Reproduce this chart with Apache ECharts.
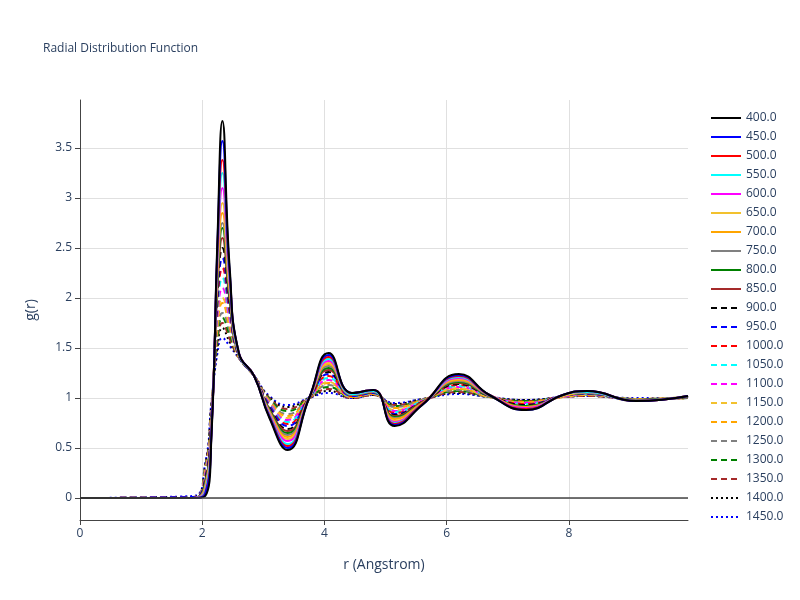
<!DOCTYPE html>
<html><head><meta charset="utf-8">
<script src="https://cdn.jsdelivr.net/npm/echarts@6/dist/echarts.min.js"></script>
<style>html,body{margin:0;padding:0;background:#fff}#c{width:800px;height:600px}</style>
</head><body><div id="c"></div>
<script>
const rValues = [0,1.85,2.05,2.15,2.25,2.33,2.45,2.6,2.85,3.1,3.4,3.75,4.07,4.45,4.8,5.15,5.6,6.2,6.7,7.3,7.9,8.3,9.1,9.95];
const temperatures = ['400.0','450.0','500.0','550.0','600.0','650.0','700.0','750.0','800.0','850.0','900.0','950.0','1000.0','1050.0','1100.0','1150.0','1200.0','1250.0','1300.0','1350.0','1400.0','1450.0'];
const g400 =[0,0,.02,.60,2.60,3.77,2.30,1.45,1.22,.80,.48,1.0,1.45,1.05,1.08,.72,.93,1.24,1.03,.88,1.03,1.07,.97,1.02];
const g450 =[0,0,.04,.62,2.55,3.57,2.26,1.45,1.22,.81,.50,1.0,1.43,1.05,1.08,.73,.93,1.23,1.03,.88,1.03,1.07,.97,1.02];
const g500 =[0,0,.05,.63,2.49,3.38,2.23,1.45,1.22,.82,.52,1.0,1.41,1.05,1.08,.74,.94,1.22,1.03,.89,1.03,1.07,.97,1.02];
const g550 =[0,0,.07,.65,2.44,3.25,2.19,1.44,1.22,.83,.54,1.0,1.39,1.04,1.07,.75,.94,1.21,1.03,.89,1.03,1.06,.97,1.02];
const g600 =[0,0,.08,.67,2.38,3.10,2.15,1.44,1.22,.84,.57,1.0,1.37,1.04,1.07,.76,.94,1.20,1.03,.90,1.03,1.06,.97,1.02];
const g650 =[0,0,.10,.68,2.33,2.95,2.11,1.44,1.22,.85,.59,1.0,1.35,1.04,1.07,.77,.94,1.19,1.03,.90,1.02,1.06,.97,1.02];
const g700 =[0,0,.11,.70,2.27,2.85,2.08,1.44,1.22,.86,.61,1.0,1.34,1.04,1.07,.79,.95,1.18,1.03,.91,1.02,1.06,.97,1.02];
const g750 =[0,0,.13,.72,2.22,2.75,2.04,1.43,1.22,.87,.63,1.0,1.32,1.03,1.06,.80,.95,1.17,1.02,.91,1.02,1.05,.98,1.02];
const g800 =[0,0,.15,.73,2.16,2.70,2.00,1.43,1.22,.88,.65,1.0,1.30,1.03,1.06,.81,.95,1.16,1.02,.92,1.02,1.05,.98,1.01];
const g850 =[0,0,.16,.75,2.11,2.60,1.97,1.43,1.22,.89,.67,1.0,1.28,1.03,1.06,.82,.96,1.15,1.02,.92,1.02,1.05,.98,1.01];
const g900 =[0,0,.18,.77,2.05,2.50,1.93,1.43,1.22,.90,.69,1.0,1.26,1.03,1.06,.83,.96,1.14,1.02,.93,1.02,1.05,.98,1.01];
const g950 =[0,.01,.19,.78,2.00,2.40,1.89,1.42,1.22,.92,.72,1.0,1.24,1.02,1.05,.84,.96,1.14,1.02,.93,1.02,1.04,.98,1.01];
const g1000=[0,.01,.21,.80,1.94,2.30,1.85,1.42,1.22,.93,.74,1.0,1.22,1.02,1.05,.85,.96,1.13,1.02,.94,1.02,1.04,.98,1.01];
const g1050=[0,.01,.22,.82,1.89,2.20,1.82,1.42,1.22,.94,.76,1.0,1.20,1.02,1.05,.86,.97,1.12,1.02,.94,1.02,1.04,.98,1.01];
const g1100=[0,.01,.24,.83,1.83,2.10,1.78,1.42,1.22,.95,.78,1.0,1.18,1.02,1.05,.87,.97,1.11,1.02,.95,1.01,1.04,.98,1.01];
const g1150=[0,.01,.26,.85,1.78,2.00,1.74,1.41,1.22,.96,.80,1.0,1.16,1.01,1.04,.88,.97,1.10,1.01,.95,1.01,1.03,.99,1.01];
const g1200=[0,.01,.27,.87,1.72,1.95,1.71,1.41,1.22,.97,.82,1.0,1.15,1.01,1.04,.90,.98,1.09,1.01,.96,1.01,1.03,.99,1.0];
const g1250=[0,.01,.29,.88,1.67,1.85,1.67,1.41,1.22,.98,.84,1.0,1.13,1.01,1.04,.91,.98,1.08,1.01,.96,1.01,1.03,.99,1.0];
const g1300=[0,.01,.30,.90,1.61,1.80,1.63,1.41,1.22,.99,.87,1.0,1.11,1.01,1.04,.92,.98,1.07,1.01,.97,1.01,1.03,.99,1.0];
const g1350=[0,.01,.32,.92,1.56,1.75,1.59,1.40,1.22,1.00,.89,1.0,1.09,1.0,1.03,.93,.98,1.06,1.01,.97,1.01,1.02,.99,1.0];
const g1400=[0,.01,.33,.93,1.50,1.70,1.56,1.40,1.22,1.01,.91,1.0,1.07,1.0,1.03,.94,.99,1.05,1.01,.98,1.01,1.02,.99,1.0];
const g1450=[0,.02,.35,.95,1.45,1.60,1.52,1.40,1.22,1.02,.93,1.0,1.05,1.0,1.03,.95,.99,1.04,1.01,.98,1.01,1.02,1.0,1.0];
const yTicks = [0,0.5,1,1.5,2,2.5,3,3.5];
const xTicks = [0,2,4,6,8];

const allG=[g400,g450,g500,g550,g600,g650,g700,g750,g800,g850,g900,g950,g1000,g1050,g1100,g1150,g1200,g1250,g1300,g1350,g1400,g1450];
const colors=['#000','#0000ff','#ff0000','#00ffff','#ff00ff','#f2c12e','#ffa500','#808080','#008000','#a52a2a'];
const series = allG.map((g,i)=>{
  let color, type;
  if(i<10){color=colors[i];type='solid';}
  else if(i<20){color=colors[i-10];type=[6,4];}
  else {color=i===20?'#000':'#0000ff';type=[2,3];}
  return {name:temperatures[i],type:'line',smooth:0.5,symbol:'none',
    data:rValues.map((r,j)=>[r,g[j]]),
    lineStyle:{color,type,width:2},itemStyle:{color}};
});
series[0].markLine={silent:true,symbol:'none',label:{show:false},lineStyle:{color:'#444',type:'solid',width:1.5},data:[{yAxis:0}]};
series.reverse();
const chart=echarts.init(document.getElementById('c'));
chart.setOption({
  animation:false,
  title:{text:'Radial Distribution Function',left:38,top:38,textStyle:{fontSize:12,fontWeight:'normal',color:'#2a3f5f',fontFamily:'Open Sans'}},
  legend:{orient:'vertical',left:705,top:106,itemGap:5,itemWidth:30,itemHeight:14,data:temperatures,
    itemStyle:{opacity:0},
    textStyle:{fontSize:12,color:'#2a3f5f',fontFamily:'Open Sans',lineHeight:14,padding:[0,0,0,0]}},
  grid:{left:80,right:112,top:100,bottom:80},
  xAxis:{type:'value',min:0,max:9.95,name:'r (Angstrom)',nameLocation:'middle',nameGap:38,
    nameTextStyle:{fontSize:14,color:'#2a3f5f',fontFamily:'Open Sans'},
    axisLine:{onZero:false,lineStyle:{color:'#444'}},axisTick:{show:true,length:5,customValues:xTicks,lineStyle:{color:'#444'}},
    axisLabel:{color:'#2a3f5f',fontFamily:'Open Sans',fontSize:12,customValues:xTicks},
    splitLine:{show:true,lineStyle:{color:'#e0e0e0'}}},
  yAxis:{type:'value',min:-0.22,max:3.98,name:'g(r)',nameLocation:'middle',nameGap:42,
    nameTextStyle:{fontSize:14,color:'#2a3f5f',fontFamily:'Open Sans'},
    axisLine:{show:true,onZero:false,lineStyle:{color:'#444'}},
    axisTick:{show:true,length:5,customValues:yTicks,lineStyle:{color:'#444'}},
    axisLabel:{color:'#2a3f5f',fontFamily:'Open Sans',fontSize:12,customValues:yTicks},
    splitLine:{show:true,lineStyle:{color:'#e0e0e0'}}},
  series
});
</script></body></html>
